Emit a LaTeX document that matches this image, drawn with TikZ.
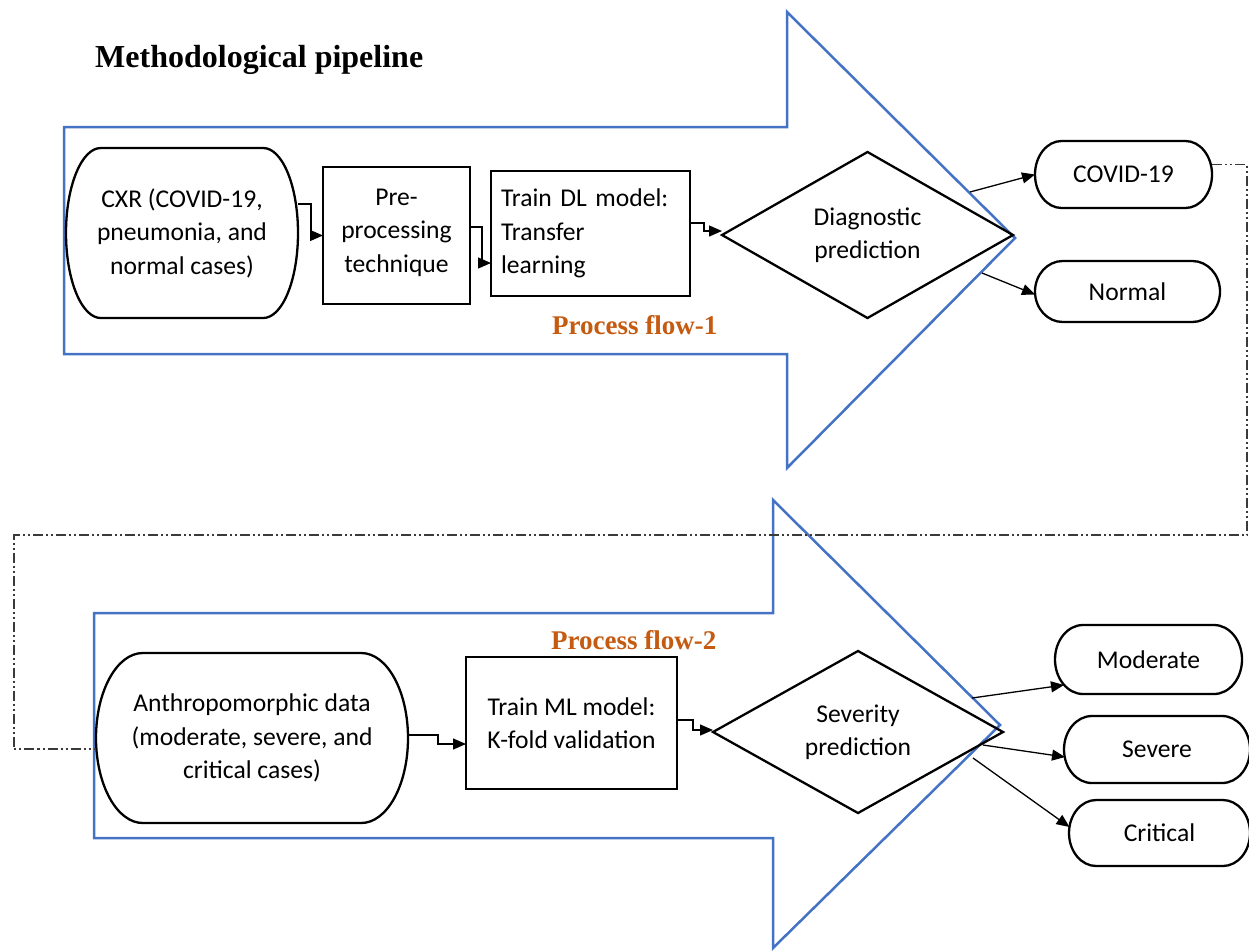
\documentclass[tikz,border=0pt]{standalone}
\usepackage{fontspec}
\setmainfont{Carlito}
\newfontfamily\titlefont{Liberation Serif}
\usetikzlibrary{arrows.meta,shapes.geometric,calc}
\definecolor{flowblue}{HTML}{4472C4}
\definecolor{flowrust}{HTML}{C55A11}
\definecolor{linkgray}{HTML}{3A3A3A}

\tikzset{
  shapeline/.style={line width=2.3pt, draw=black},
  textnode/.style={font=\fontsize{25.6}{33.5}\selectfont, align=center, inner sep=0pt, outer sep=0pt},
  termtext/.style={textnode},
  procbox/.style={textnode, draw=black, line width=2.3pt},
  decision/.style={textnode, draw=black, diamond, aspect=1.75, line width=2.3pt},
  conn/.style={line width=1.3pt, -{Triangle[length=13pt,width=11pt]}},
  bigarrow/.style={draw=flowblue, line width=2.5pt, line join=miter},
  heading/.style={font=\titlefont\bfseries\fontsize{32}{38}\selectfont, anchor=base west, inner sep=0pt},
  flowlabel/.style={font=\titlefont\bfseries\fontsize{27}{32}\selectfont, text=flowrust, anchor=base west, inner sep=0pt},
  feedback/.style={draw=linkgray, line width=1.3pt, dash pattern=on 10pt off 3pt on 2pt off 3pt on 2pt off 3pt},
}

% outline of a flowchart terminator around a node: flat top and bottom, half-ellipse ends
\newcommand\terminatoroutline[1]{%
  \draw[shapeline] let \p1=(#1.north west), \p2=(#1.south east),
    \n1={0.15*(\x2-\x1)}, \n2={(\y1-\y2)/2} in
    (\x1+\n1,\y1) -- (\x2-\n1,\y1)
    arc[start angle=90,end angle=-90,x radius=\n1*1pt,y radius=\n2*1pt]
    -- (\x1+\n1,\y2)
    arc[start angle=270,end angle=90,x radius=\n1*1pt,y radius=\n2*1pt] -- cycle;}

\begin{document}
\begin{tikzpicture}[x=1pt,y=1pt]
\useasboundingbox (0,0) rectangle (1249,-951);

% large blue block arrows
\draw[bigarrow] (64,-127) -- (787,-127) -- (787,-12) -- (1015,-238)
  -- (787,-468) -- (787,-354) -- (64,-354) -- cycle;
\draw[bigarrow] (94,-613) -- (773,-613) -- (773,-500) -- (1000,-725)
  -- (773,-948) -- (773,-838) -- (94,-838) -- cycle;

% titles
\node[heading] (title) at (95,-67) {Methodological pipeline};
\node[flowlabel] (pf1) at (552,-334) {Process flow-1};
\node[flowlabel] (pf2) at (551,-649) {Process flow-2};

% process flow 1
\node[termtext, minimum width=232pt, minimum height=170pt] (cxr) at (182,-233)
  {CXR (COVID-19,\\pneumonia, and\\normal cases)};
\terminatoroutline{cxr}
\node[procbox, minimum width=147pt, minimum height=137pt] (pre) at (396.5,-235.5)
  {Pre-\\processing\\technique\\[-23.5pt]};
\node[procbox, minimum width=199pt, minimum height=125pt, text width=179pt, align=left] (dl) at (590.5,-233.5)
  {Train DL model:\\Transfer\\learning};
\node[decision, minimum width=291pt, minimum height=166pt] (diag) at (867.5,-235)
  {Diagnostic\\prediction};
\node[termtext, minimum width=177pt, minimum height=67pt] (covid) at (1123.5,-174.5) {COVID-19};
\terminatoroutline{covid}
\node[termtext, minimum width=185pt, minimum height=61pt] (normal) at (1127.5,-291.5) {Normal};
\terminatoroutline{normal}

% process flow 2
\node[termtext, minimum width=312pt, minimum height=170pt] (anthro) at (252,-738)
  {Anthropomorphic data\\(moderate, severe, and\\critical cases)};
\terminatoroutline{anthro}
\node[procbox, minimum width=211pt, minimum height=132pt] (ml) at (571.5,-723)
  {Train ML model:\\K-fold validation};
\node[decision, minimum width=290pt, minimum height=162pt] (sev) at (858,-732)
  {Severity\\prediction};
\node[termtext, minimum width=187pt, minimum height=69pt] (moderate) at (1148.5,-659.5) {Moderate};
\terminatoroutline{moderate}
\node[termtext, minimum width=186pt, minimum height=67pt] (severe) at (1157,-749.5) {Severe};
\terminatoroutline{severe}
\node[termtext, minimum width=181pt, minimum height=66pt] (critical) at (1159.5,-833) {Critical};
\terminatoroutline{critical}

% elbow connectors between steps
\draw[conn] ([yshift=29pt]cxr.east) -- ++(13,0) |- (pre.west);
\draw[conn] ([yshift=8.5pt]pre.east) -- ++(12,0) |- ([yshift=-29.5pt]dl.west);
\draw[conn] ([yshift=10.5pt]dl.east) -- ++(14,0) |- ([yshift=4pt]diag.west);
\draw[conn] ([yshift=3pt]anthro.east) -- ++(30,0) |- ([yshift=-21pt]ml.west);
\draw[conn] ([yshift=3pt]ml.east) -- ++(16,0) |- ([yshift=2pt]sev.west);

% outcome arrows leaving the block arrows
\coordinate (d1) at (970,-192);
\coordinate (d2) at (982,-273);
\coordinate (s1) at (972,-698);
\coordinate (s2) at (983,-745);
\coordinate (s3) at (973,-758);
\draw[conn] (d1) -- (covid.west);
\draw[conn] (d2) -- ([yshift=-3pt]normal.west);
\draw[conn] (s1) -- ([shift={(9,-25.5)}]moderate.west);
\draw[conn] (s2) -- ([shift={(1,-7.5)}]severe.west);
\draw[conn] (s3) -- ([shift={(0.5,6)}]critical.west);

% COVID-19 cases feed the severity flow
\coordinate (fbR) at (1247,-535);
\coordinate (fbL) at (14,-535);
\draw[feedback] ([yshift=10pt]covid.east) -| (fbR) -- (fbL) |- ([yshift=-11pt]anthro.west);
\end{tikzpicture}
\end{document}
